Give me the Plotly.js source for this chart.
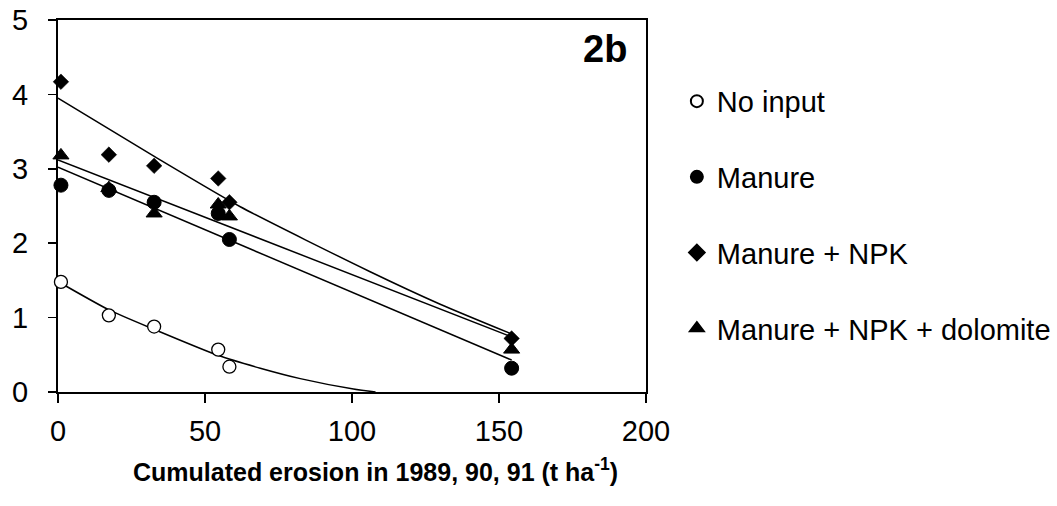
<!DOCTYPE html>
<html>
<head>
<meta charset="utf-8">
<script src="https://cdn.plot.ly/plotly-3.0.1.min.js"></script>
<style>
  html, body { margin: 0; padding: 0; background: #fff; }
  #chart { width: 1057px; height: 506px; }
</style>
</head>
<body>
<div id="chart"></div>
<script>
// ---- Data ----
const seriesNames = ["No input", "Manure", "Manure + NPK", "Manure + NPK + dolomite"];

const erosionX   = [1, 17.3, 32.7, 54.5, 58.3, 154.3];
const noInputY   = [1.48, 1.03, 0.88, 0.57, 0.34, -0.02];
const manureY    = [2.78, 2.71, 2.55, 2.40, 2.05, 0.32];
const npkY       = [4.17, 3.19, 3.04, 2.87, 2.55, 0.72];
const dolomiteY  = [3.18, 2.74, 2.40, 2.52, 2.36, 0.57];

// Trend lines
const noInputFitX  = [0, 17.5, 32.8, 54.6, 68.8, 82.4, 100.5, 108];
const noInputFitY  = [1.485, 1.10, 0.84, 0.49, 0.32, 0.18, 0.04, 0];
const npkFitX      = [0, 32.6, 62, 106, 130, 154.3];
const npkFitY      = [3.95, 3.17, 2.49, 1.62, 1.18, 0.78];
const dolomiteFitX = [0, 154.3];
const dolomiteFitY = [3.12, 0.74];
const manureFitX   = [0, 154.3];
const manureFitY   = [3.02, 0.43];

const xTicks = [0, 50, 100, 150, 200];
const yTicks = [0, 1, 2, 3, 4, 5];

const FONT = "Arial, 'Liberation Sans', sans-serif";

function fitLine(x, y, shape) {
  return {
    x: x, y: y, type: "scatter", mode: "lines",
    line: { color: "#000", width: 1.5, shape: shape || "linear", smoothing: 0.6 },
    showlegend: false, hoverinfo: "skip"
  };
}

const traces = [
  fitLine(noInputFitX, noInputFitY, "spline"),
  fitLine(npkFitX, npkFitY, "spline"),
  fitLine(dolomiteFitX, dolomiteFitY),
  fitLine(manureFitX, manureFitY),
  {
    x: erosionX, y: noInputY, type: "scatter", mode: "markers", name: seriesNames[0],
    legendgroup: "a", cliponaxis: false,
    marker: { symbol: "circle", size: 13, color: "#fff", line: { color: "#000", width: 1.3 } }
  },
  {
    x: erosionX, y: manureY, type: "scatter", mode: "markers", name: seriesNames[1],
    legendgroup: "b", cliponaxis: false,
    marker: { symbol: "circle", size: 14, color: "#000", line: { color: "#000", width: 1 } }
  },
  {
    x: erosionX, y: npkY, type: "scatter", mode: "markers", name: seriesNames[2],
    legendgroup: "c", cliponaxis: false,
    marker: { symbol: "diamond", size: 12, color: "#000", line: { color: "#000", width: 0.5 } }
  },
  {
    x: erosionX, y: dolomiteY, type: "scatter", mode: "markers", name: seriesNames[3],
    legendgroup: "d", cliponaxis: false,
    marker: { symbol: "triangle-up", size: 14, color: "#000", line: { color: "#000", width: 1 } }
  }
];

const layout = {
  width: 1057, height: 506,
  margin: { l: 58, r: 411, t: 20, b: 114, autoexpand: false },
  paper_bgcolor: "#fff", plot_bgcolor: "#fff",
  font: { family: FONT, size: 29, color: "#000" },
  showlegend: true,
  legend: {
    x: 1.0525, xanchor: "left", y: 0.85, yanchor: "top",
    font: { family: FONT, size: 29, color: "#000" },
    tracegroupgap: 35, itemsizing: "constant",
    bgcolor: "rgba(0,0,0,0)", borderwidth: 0
  },
  xaxis: {
    range: [0, 200], tickvals: xTicks, ticktext: xTicks.map(String),
    showgrid: false, zeroline: false,
    showline: true, linecolor: "#000", linewidth: 2, mirror: true,
    ticks: "outside", ticklen: 9, tickwidth: 1.5, tickcolor: "#000",
    ticklabelstandoff: 3,
    tickfont: { family: FONT, size: 29, color: "#000" },
    layer: "below traces", fixedrange: true
  },
  yaxis: {
    range: [0, 5], tickvals: yTicks, ticktext: yTicks.map(String),
    showgrid: false, zeroline: false,
    showline: true, linecolor: "#000", linewidth: 2, mirror: true,
    ticks: "outside", ticklen: 8, tickwidth: 1.5, tickcolor: "#000",
    ticklabelstandoff: 14,
    tickfont: { family: FONT, size: 29, color: "#000" },
    layer: "below traces", fixedrange: true
  },
  annotations: [
    {
      text: "<b>Cumulated erosion in 1989, 90, 91 (t ha<sup>-1</sup>)</b>",
      xref: "paper", yref: "paper", x: 0.5395, y: -0.2087,
      xanchor: "center", yanchor: "middle", showarrow: false,
      font: { family: FONT, size: 25, color: "#000" }
    },
    {
      text: "<b>2b</b>",
      xref: "paper", yref: "paper", x: 0.931, y: 0.922,
      xanchor: "center", yanchor: "middle", showarrow: false,
      font: { family: FONT, size: 38, color: "#000" }
    }
  ]
};

Plotly.newPlot("chart", traces, layout, { displayModeBar: false, staticPlot: true });
</script>
</body>
</html>
